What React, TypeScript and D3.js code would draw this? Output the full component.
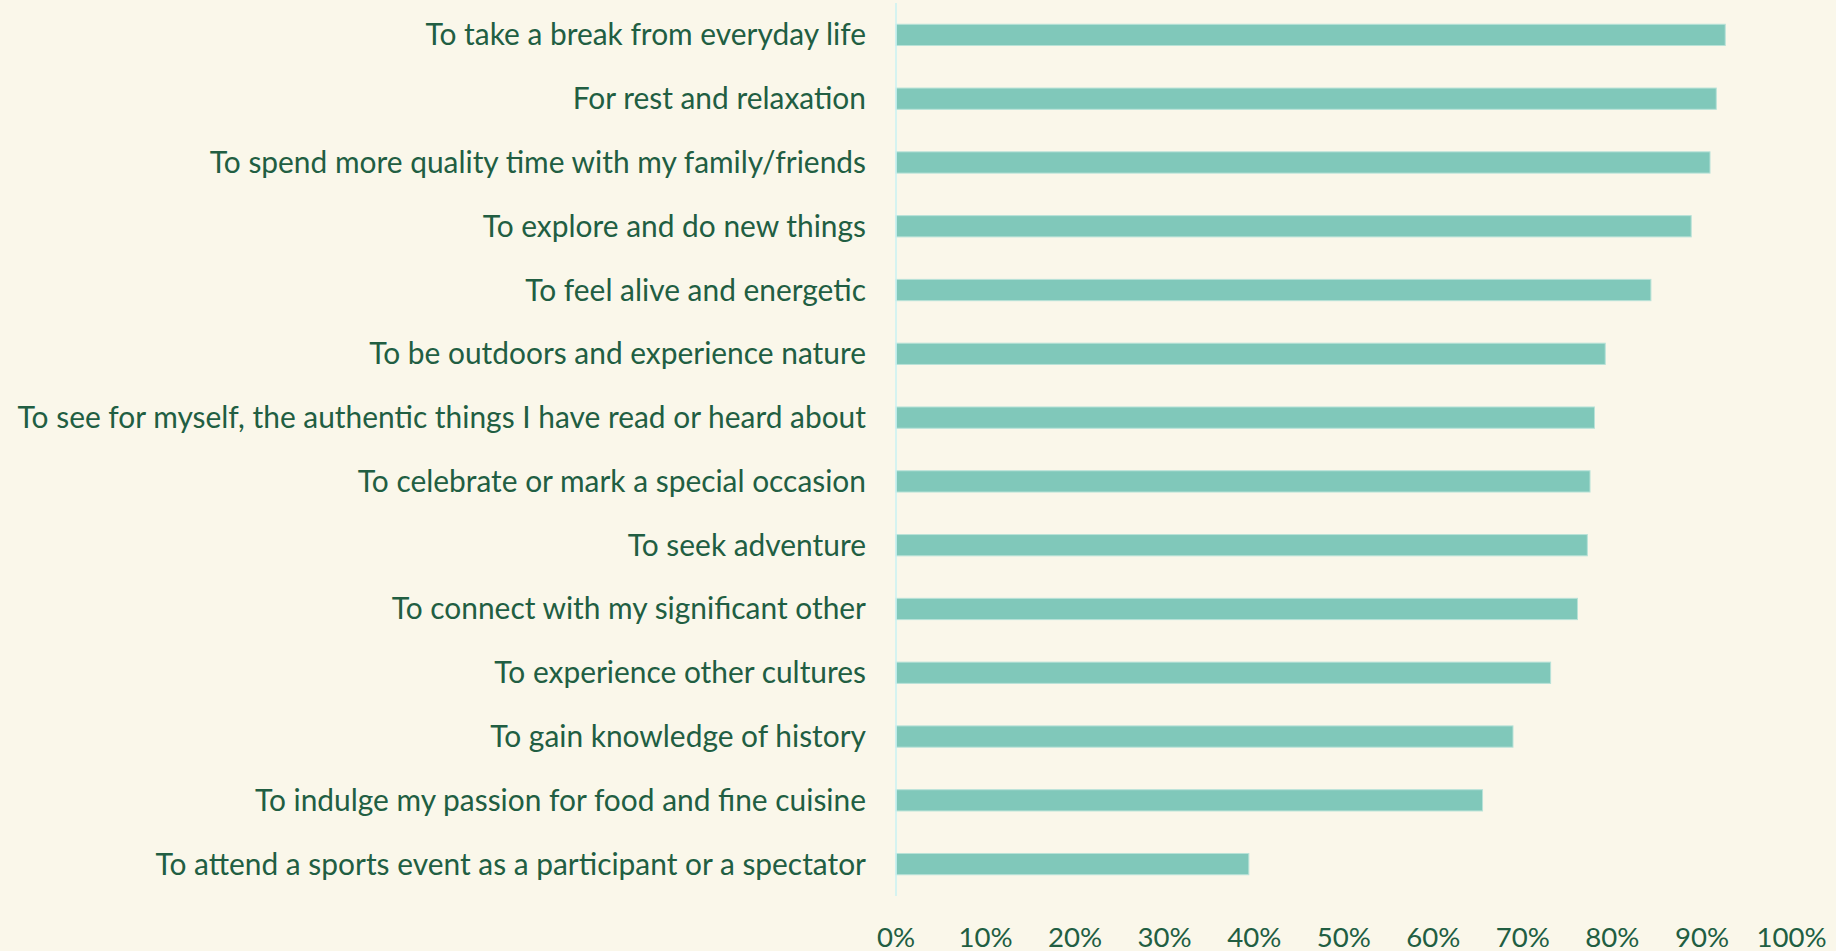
import React from "react";
import * as d3 from "d3";

const categories = [
  "To take a break from everyday life",
  "For rest and relaxation",
  "To spend more quality time with my family/friends",
  "To explore and do new things",
  "To feel alive and energetic",
  "To be outdoors and experience nature",
  "To see for myself, the authentic things I have read or heard about",
  "To celebrate or mark a special occasion",
  "To seek adventure",
  "To connect with my significant other",
  "To experience other cultures",
  "To gain knowledge of history",
  "To indulge my passion for food and fine cuisine",
  "To attend a sports event as a participant or a spectator",
];
const values = [92.6, 91.6, 90.9, 88.8, 84.3, 79.2, 78.0, 77.5, 77.2, 76.1, 73.1, 68.9, 65.5, 39.4];
const tickValues = [0, 10, 20, 30, 40, 50, 60, 70, 80, 90, 100];

const W = 1836;
const H = 951;
const BG = "#FAF7EA";
const BAR = "#80C8BA";
const TEXT = "#215E42";
const AXIS = "#C8F2F2";
const FONT = "Lato, 'Open Sans', sans-serif";

export default function App() {
  const x = d3.scaleLinear().domain([0, 100]).range([896, 1791.5]);
  const y = d3.scaleBand<string>().domain(categories).range([3, 896]).paddingInner(2 / 3).paddingOuter(1 / 3);
  return (
    <svg width={W} height={H} style={{ position: "absolute", left: 0, top: 0, display: "block" }}>
      <rect x={0} y={0} width={W} height={H} fill={BG} />
      {categories.map((c, i) => (
        <rect
          key={c}
          x={x(0)}
          y={y(c)!}
          width={x(values[i]) - x(0)}
          height={y.bandwidth()}
          fill={BAR}
          stroke="#B8E2D8"
          strokeWidth={1}
        />
      ))}
      <line x1={x(0)} x2={x(0)} y1={3} y2={896} stroke={AXIS} strokeWidth={1.5} />
      {categories.map((c) => (
        <text
          key={c}
          x={866}
          y={y(c)! + y.bandwidth() / 2 + 10.5}
          textAnchor="end"
          fontFamily={FONT}
          fontSize={29.9}
          fill={TEXT}
        >
          {c}
        </text>
      ))}
      {tickValues.map((t) => (
        <text
          key={t}
          x={x(t)}
          y={946.5}
          textAnchor="middle"
          fontFamily={FONT}
          fontSize={27.6}
          fill={TEXT}
        >
          {t + "%"}
        </text>
      ))}
    </svg>
  );
}
